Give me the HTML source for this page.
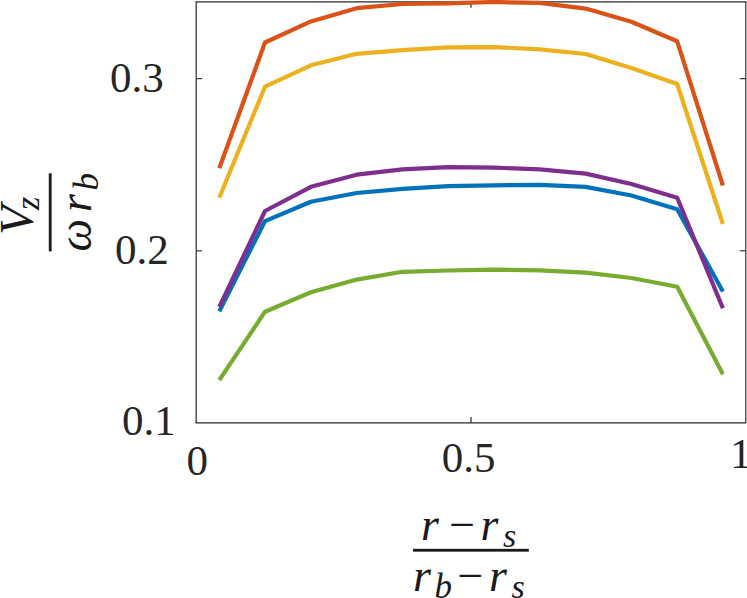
<!DOCTYPE html>
<html><head><meta charset="utf-8"><title>Chart</title>
<style>
html,body{margin:0;padding:0;background:#fff;}
body{width:747px;height:598px;overflow:hidden;font-family:"Liberation Serif",serif;}
svg{display:block;}
</style></head><body>
<svg width="747" height="598" viewBox="0 0 747 598">
<rect width="747" height="598" fill="#fff"/>
<g stroke="#262626" fill="none">
<line x1="195.60" y1="1.80" x2="746.38" y2="1.80" stroke-width="1.22"/>
<line x1="195.60" y1="422.97" x2="746.38" y2="422.97" stroke-width="1.3"/>
<line x1="196.19" y1="1.80" x2="196.19" y2="422.97" stroke-width="1.18"/>
<line x1="745.79" y1="1.80" x2="745.79" y2="422.97" stroke-width="1.12"/>
<line x1="196.19" y1="78.66" x2="202.19" y2="78.66" stroke-width="1.08"/>
<line x1="745.79" y1="78.66" x2="739.79" y2="78.66" stroke-width="1.08"/>
<line x1="196.19" y1="250.80" x2="202.19" y2="250.80" stroke-width="1.08"/>
<line x1="745.79" y1="250.80" x2="739.79" y2="250.80" stroke-width="1.08"/>
<line x1="470.99" y1="422.97" x2="470.99" y2="416.97" stroke-width="1.18"/>
<line x1="470.99" y1="1.80" x2="470.99" y2="7.80" stroke-width="1.18"/>
</g>
<clipPath id="cp"><rect x="196.19" y="0" width="549.5999999999999" height="422.97"/></clipPath>
<g clip-path="url(#cp)">
<polyline points="219.3,311.4 265.0,221.1 310.9,201.8 356.7,193.0 402.5,188.8 448.2,186.1 494.0,185.3 539.8,184.9 585.6,186.9 631.4,195.5 677.2,209.2 722.9,291.5" fill="none" stroke="#0072BD" stroke-width="4.2" stroke-linejoin="round" stroke-linecap="butt"/>
<polyline points="219.3,168.2 265.0,42.5 310.9,21.4 356.7,8.2 402.5,4.0 448.2,3.4 494.0,2.0 539.8,2.9 585.6,8.6 631.4,21.8 677.2,41.3 722.9,185.5" fill="none" stroke="#D95319" stroke-width="4.2" stroke-linejoin="round" stroke-linecap="butt"/>
<polyline points="219.3,197.8 265.0,86.7 310.9,65.3 356.7,53.8 402.5,50.2 448.2,47.4 494.0,47.1 539.8,49.3 585.6,54.0 631.4,68.1 677.2,84.0 722.9,224.0" fill="none" stroke="#EDB120" stroke-width="4.2" stroke-linejoin="round" stroke-linecap="butt"/>
<polyline points="219.3,306.8 265.0,211.0 310.9,186.8 356.7,174.7 402.5,169.3 448.2,167.1 494.0,167.7 539.8,169.3 585.6,173.6 631.4,184.0 677.2,197.8 722.9,308.3" fill="none" stroke="#7E2F8E" stroke-width="4.2" stroke-linejoin="round" stroke-linecap="butt"/>
<polyline points="219.3,380.2 265.0,311.7 310.9,292.2 356.7,279.6 402.5,271.8 448.2,270.5 494.0,269.7 539.8,270.3 585.6,272.6 631.4,278.0 677.2,286.7 722.9,374.3" fill="none" stroke="#77AC30" stroke-width="4.2" stroke-linejoin="round" stroke-linecap="butt"/>
</g>
<g font-family="'Liberation Serif', serif" fill="#262626">
<text x="110" y="91.7" font-size="43">0.3</text>
<text x="115" y="263.7" font-size="43">0.2</text>
<text x="122" y="434.7" font-size="43">0.1</text>
<text x="186.6" y="474.7" font-size="43">0</text>
<text x="441.8" y="472" font-size="43">0.5</text>
<text x="730" y="468.1" font-size="43">1</text>
</g>
<g font-family="'Liberation Serif', serif" fill="#1a1a1a">
<text x="421" y="539.5" font-size="46" font-style="italic">r</text>
<text x="462.3" y="539.5" font-size="46" text-anchor="middle">−</text>
<text x="480.5" y="539.5" font-size="46" font-style="italic">r</text>
<text x="503" y="546.5" font-size="34" font-style="italic">s</text>
<text x="413" y="590.7" font-size="46" font-style="italic">r</text>
<text x="434.5" y="598" font-size="35" font-style="italic">b</text>
<text x="470.4" y="590.7" font-size="46" text-anchor="middle">−</text>
<text x="489" y="590.7" font-size="46" font-style="italic">r</text>
<text x="511.5" y="598" font-size="34" font-style="italic">s</text>
<text transform="translate(33,235) rotate(-90)" font-size="48" font-style="italic">V</text>
<text transform="translate(39,210) rotate(-90)" font-size="34" font-style="italic">z</text>
<text transform="translate(90.8,251.5) rotate(-90)" font-size="46" font-style="italic">ω</text>
<text transform="translate(90.8,212) rotate(-90)" font-size="46" font-style="italic">r</text>
<text transform="translate(98,190.5) rotate(-90)" font-size="35" font-style="italic">b</text>
</g>
<g>
<rect x="413.00" y="548.85" width="115.80" height="2.80" fill="#1a1a1a"/>
<rect x="48.80" y="173.30" width="2.80" height="78.10" fill="#1a1a1a"/>
</g>
</svg>
</body></html>
